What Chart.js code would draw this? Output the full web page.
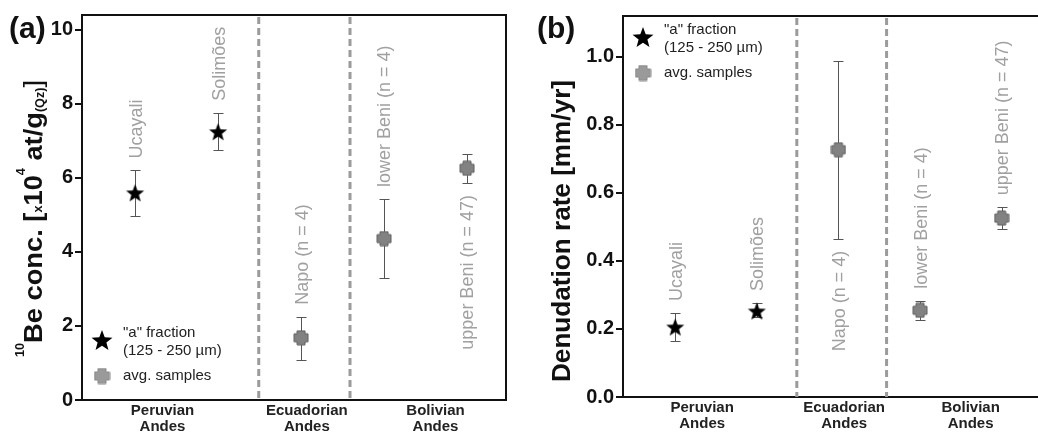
<!DOCTYPE html>
<html>
<head>
<meta charset="utf-8">
<script src="https://cdn.jsdelivr.net/npm/chart.js@4.4.1/dist/chart.umd.min.js"></script>
<style>
  html, body { margin: 0; padding: 0; background: #fff; overflow: hidden; width: 1038px; height: 435px; }
  #ca { position: absolute; left: 0; top: 0; }
  #cb { position: absolute; left: 520px; top: 0; }
</style>
</head>
<body>
<canvas id="ca" width="520" height="435"></canvas>
<canvas id="cb" width="530" height="435"></canvas>
<script>
// sampling sites, left to right
const sites = ['Ucayali', 'Solimões', 'Napo (n = 4)', 'lower Beni (n = 4)', 'upper Beni (n = 47)']
const regions = [['Peruvian', 'Andes'], ['Ecuadorian', 'Andes'], ['Bolivian', 'Andes']]
// first two sites are the "a" fraction, the others averaged samples
const isFraction = [true, true, false, false, false]

// (a) 10Be concentration [x10^4 at/g(Qz)]
const beConc = [5.6, 7.25, 1.68, 4.36, 6.26]
const beLow = [4.96, 6.75, 1.08, 3.30, 5.86]
const beHigh = [6.2, 7.76, 2.25, 5.43, 6.64]

// (b) denudation rate [mm/yr]
const denRate = [0.206, 0.253, 0.727, 0.255, 0.526]
const denLow = [0.165, 0.236, 0.465, 0.226, 0.494]
const denHigh = [0.247, 0.276, 0.988, 0.283, 0.558]

const legendText = [['"a" fraction', '(125 - 250 µm)'], ['avg. samples']]

function starMark (r, color) {
  const c = document.createElement('canvas')
  const s = Math.ceil(r * 2 + 2)
  c.width = s
  c.height = s
  const g = c.getContext('2d')
  g.translate(s / 2, s / 2 + r * 0.1)
  g.beginPath()
  for (let i = 0; i < 10; i++) {
    const rr = i % 2 === 0 ? r : r * 0.42
    const a = -Math.PI / 2 + i * Math.PI / 5
    g.lineTo(rr * Math.cos(a), rr * Math.sin(a))
  }
  g.closePath()
  g.fillStyle = color
  g.fill()
  return c
}

function crossMark (w, arm, fill, edge) {
  const c = document.createElement('canvas')
  c.width = w + 2
  c.height = w + 2
  const g = c.getContext('2d')
  const o = 1
  const a = (w - arm) / 2
  g.beginPath()
  g.moveTo(o + a, o)
  g.lineTo(o + a + arm, o)
  g.lineTo(o + a + arm, o + a)
  g.lineTo(o + w, o + a)
  g.lineTo(o + w, o + a + arm)
  g.lineTo(o + a + arm, o + a + arm)
  g.lineTo(o + a + arm, o + w)
  g.lineTo(o + a, o + w)
  g.lineTo(o + a, o + a + arm)
  g.lineTo(o, o + a + arm)
  g.lineTo(o, o + a)
  g.lineTo(o + a, o + a)
  g.closePath()
  g.fillStyle = fill
  g.fill()
  g.lineJoin = 'round'
  g.strokeStyle = edge
  g.lineWidth = 1
  g.stroke()
  return c
}

const star = starMark(9.5, '#000')
const cross = crossMark(14, 8, '#828282', '#616161')
const legendStar = starMark(11, '#000')
const legendCross = crossMark(15, 8, '#9a9a9a', '#888')

function drawTitle (ctx, parts, x, y, span) {
  ctx.save()
  ctx.translate(x, y)
  ctx.rotate(-Math.PI / 2)
  let total = 0
  parts.forEach(p => { ctx.font = p.font; total += ctx.measureText(p.t).width })
  ctx.scale(span / total, 1)
  ctx.fillStyle = '#111'
  ctx.textBaseline = 'alphabetic'
  let cx = 0
  parts.forEach(p => {
    ctx.font = p.font
    ctx.fillText(p.t, cx, p.dy || 0)
    cx += ctx.measureText(p.t).width
  })
  ctx.restore()
}

const decor = {
  id: 'decor',
  beforeDatasetsDraw (chart, args, o) {
    const { ctx, chartArea: area, scales: { x, y } } = chart
    ctx.save()
    // region dividers
    ctx.strokeStyle = '#9b9b9b'
    ctx.lineWidth = 3
    ctx.setLineDash([7, 4])
    o.dividers.forEach(d => {
      const px = x.getPixelForValue(d)
      ctx.beginPath()
      ctx.moveTo(px, area.top + 2)
      ctx.lineTo(px, area.bottom)
      ctx.stroke()
    })
    ctx.setLineDash([])
    // error bars
    ctx.strokeStyle = '#555'
    ctx.lineWidth = 1
    o.low.forEach((lo, i) => {
      const px = Math.round(x.getPixelForValue(i)) + 0.5
      const y1 = Math.round(y.getPixelForValue(lo)) + 0.5
      const y2 = Math.round(y.getPixelForValue(o.high[i])) + 0.5
      ctx.beginPath()
      ctx.moveTo(px, y1)
      ctx.lineTo(px, y2)
      ctx.moveTo(px - 5, y1)
      ctx.lineTo(px + 5, y1)
      ctx.moveTo(px - 5, y2)
      ctx.lineTo(px + 5, y2)
      ctx.stroke()
    })
    ctx.restore()
  },
  afterDatasetsDraw (chart, args, o) {
    const { ctx, scales: { x, y } } = chart
    ctx.save()
    ctx.fillStyle = '#a0a0a0'
    ctx.font = '18px "Liberation Sans", Arial, sans-serif'
    ctx.textBaseline = 'middle'
    sites.forEach((s, i) => {
      const px = x.getPixelForValue(i) + 1.5
      ctx.save()
      if (o.sides[i] === 'above') {
        ctx.translate(px, y.getPixelForValue(o.high[i]) - 12)
        ctx.textAlign = 'left'
      } else {
        ctx.translate(px, y.getPixelForValue(o.low[i]) + 12)
        ctx.textAlign = 'right'
      }
      ctx.rotate(-Math.PI / 2)
      ctx.fillText(s, 0, 0)
      ctx.restore()
    })
    ctx.restore()
  },
  afterDraw (chart, args, o) {
    const { ctx, chartArea: area } = chart
    ctx.save()
    // top and right frame
    ctx.strokeStyle = '#111'
    ctx.lineWidth = 2
    ctx.beginPath()
    ctx.moveTo(area.left - 1, area.top)
    ctx.lineTo(area.right, area.top)
    ctx.lineTo(area.right, area.bottom)
    ctx.stroke()
    // legend
    const lx = area.left + o.legend[0]
    const ly = o.legend[1] < 0 ? area.bottom + o.legend[1] : area.top + o.legend[1]
    ctx.drawImage(legendStar, lx - legendStar.width / 2, ly - legendStar.height / 2)
    ctx.drawImage(legendCross, lx - legendCross.width / 2, ly + 36 - legendCross.height / 2)
    ctx.fillStyle = '#222'
    ctx.font = '15px "Liberation Sans", Arial, sans-serif'
    ctx.textBaseline = 'middle'
    ctx.fillText(legendText[0][0], lx + 21, ly - 7)
    ctx.fillText(legendText[0][1], lx + 21, ly + 11)
    ctx.fillText(legendText[1][0], lx + 21, ly + 36)
    // axis title and panel letter
    drawTitle(ctx, o.title, o.titleAt[0], o.titleAt[1], o.titleAt[2])
    ctx.fillStyle = '#111'
    ctx.font = 'bold 30px "Liberation Sans", Arial, sans-serif'
    ctx.textBaseline = 'alphabetic'
    ctx.fillText(o.letter, o.letterAt[0], o.letterAt[1])
    ctx.restore()
  }
}

const bold = s => 'bold ' + s + 'px "Liberation Sans", Arial, sans-serif'

function panel (id, o) {
  const pts = o.values.map((v, i) => ({ x: i, y: v }))
  return new Chart(document.getElementById(id), {
    type: 'scatter',
    data: {
      datasets: [
        { data: pts.filter((p, i) => isFraction[i]), pointStyle: star, pointRadius: 9 },
        { data: pts.filter((p, i) => !isFraction[i]), pointStyle: cross, pointRadius: 7 }
      ]
    },
    options: {
      responsive: false,
      animation: false,
      events: [],
      layout: { padding: o.padding },
      plugins: {
        legend: { display: false },
        tooltip: { enabled: false },
        decor: o.decor
      },
      scales: {
        x: {
          type: 'linear',
          min: -0.64,
          max: 4.47,
          afterBuildTicks: s => { s.ticks = [0.33, 2.07, 3.62].map(v => ({ value: v })) },
          afterFit: s => { s.height = o.xHeight },
          grid: { drawOnChartArea: false, drawTicks: false },
          border: { color: '#111', width: 2 },
          ticks: {
            callback: (v, i) => regions[i],
            autoSkip: false,
            maxRotation: 0,
            padding: 3,
            color: '#222',
            font: { family: '"Liberation Sans", Arial, sans-serif', size: 15, weight: 'bold', lineHeight: 1.07 }
          }
        },
        y: {
          min: 0,
          max: o.max,
          afterFit: s => { s.width = o.yWidth },
          grid: { drawOnChartArea: false, drawTicks: true, tickLength: 7, color: '#111', lineWidth: 2 },
          border: { color: '#111', width: 2 },
          ticks: {
            stepSize: o.step,
            includeBounds: false,
            padding: 2,
            color: '#111',
            callback: o.fmt,
            font: { family: '"Liberation Sans", Arial, sans-serif', size: 20, weight: 'bold' }
          }
        }
      }
    },
    plugins: [decor]
  })
}

panel('ca', {
  values: beConc,
  max: 10.4,
  step: 2,
  fmt: v => String(Math.round(v)),
  yWidth: 82,
  xHeight: 35,
  padding: { left: 0, right: 14, top: 15, bottom: 0 },
  decor: {
    dividers: [1.49, 2.59],
    low: beLow,
    high: beHigh,
    sides: ['above', 'above', 'above', 'above', 'below'],
    legend: [20, -60],
    letter: '(a)',
    letterAt: [9, 38],
    titleAt: [42, 357, 277],
    title: [
      { t: '10', font: bold(12), dy: -18 },
      { t: 'Be conc. [', font: bold(26) },
      { t: 'x', font: bold(12) },
      { t: '10', font: bold(26) },
      { t: '4', font: bold(12), dy: -17 },
      { t: ' at/g', font: bold(26) },
      { t: '(Qz)', font: bold(12), dy: 2 },
      { t: ']', font: '26px "Liberation Sans", Arial, sans-serif' }
    ]
  }
})

panel('cb', {
  values: denRate,
  max: 1.12,
  step: 0.2,
  fmt: v => v.toFixed(1),
  yWidth: 103,
  xHeight: 38,
  padding: { left: 0, right: 3, top: 16, bottom: 0 },
  decor: {
    dividers: [1.49, 2.59],
    low: denLow,
    high: denHigh,
    sides: ['above', 'above', 'below', 'above', 'above'],
    legend: [20, 21],
    letter: '(b)',
    letterAt: [17, 38],
    titleAt: [50, 382, 302],
    title: [
      { t: 'Denudation rate [mm/yr]', font: bold(26) }
    ]
  }
})
</script>
</body>
</html>
